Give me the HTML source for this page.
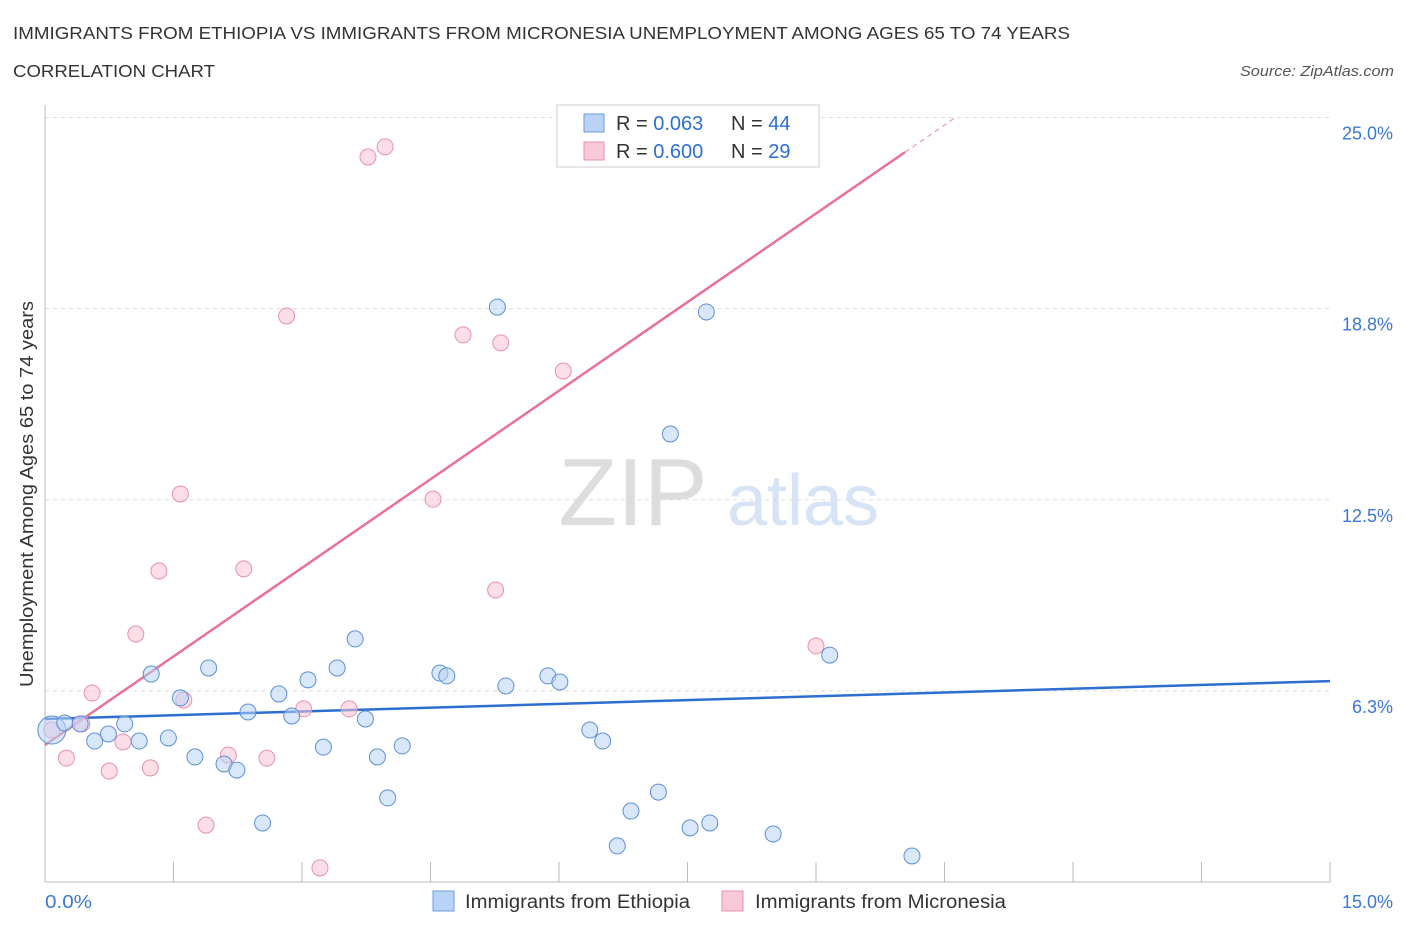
<!DOCTYPE html>
<html><head><meta charset="utf-8">
<style>
body{margin:0;background:#fff;font-family:"Liberation Sans",sans-serif;}
svg text{font-family:"Liberation Sans",sans-serif;}
</style></head>
<body>
<svg id="chart" width="1406" height="930" viewBox="0 0 1406 930" xmlns="http://www.w3.org/2000/svg">
<text x="13" y="39" font-size="17.5" fill="#333" textLength="1057" lengthAdjust="spacingAndGlyphs">IMMIGRANTS FROM ETHIOPIA VS IMMIGRANTS FROM MICRONESIA UNEMPLOYMENT AMONG AGES 65 TO 74 YEARS</text>
<text x="13" y="77" font-size="17.5" fill="#333" textLength="202" lengthAdjust="spacingAndGlyphs">CORRELATION CHART</text>
<text x="1394" y="76" font-size="15" fill="#555" font-style="italic" text-anchor="end" textLength="154" lengthAdjust="spacingAndGlyphs">Source: ZipAtlas.com</text>
<g>
<text x="633" y="525" font-size="96" fill="#ddd" font-family="Liberation Serif,serif" text-anchor="middle">ZIP</text>
<text x="803" y="525" font-size="72" fill="#d6e4f5" text-anchor="middle">atlas</text>
</g>
<g id="grid"></g>
<g id="axes"></g>
<g id="lines"></g>
<g id="points"></g>
<text transform="translate(33,494) rotate(-90)" font-size="18" fill="#333" text-anchor="middle" textLength="386" lengthAdjust="spacingAndGlyphs">Unemployment Among Ages 65 to 74 years</text>
<text x="45" y="908" font-size="18" fill="#3a78d4" textLength="47" lengthAdjust="spacingAndGlyphs">0.0%</text>
<text x="1393" y="908" font-size="18" fill="#3a78d4" text-anchor="end">15.0%</text>
<g>
<rect x="557" y="105" width="262" height="62" fill="#fff" stroke="#ccc"/>
<rect x="584" y="114" width="20" height="18" fill="#b8d3f5" stroke="#6b9ede"/>
<rect x="584" y="142" width="20" height="18" fill="#f9c9d7" stroke="#e890aa"/>
<text x="616" y="130" font-size="20" fill="#333">R = <tspan fill="#2c6fd1">0.063</tspan></text>
<text x="731" y="130" font-size="20" fill="#333">N = <tspan fill="#2c6fd1">44</tspan></text>
<text x="616" y="158" font-size="20" fill="#333">R = <tspan fill="#2c6fd1">0.600</tspan></text>
<text x="731" y="158" font-size="20" fill="#333">N = <tspan fill="#2c6fd1">29</tspan></text>
</g>
<g>
<rect x="433" y="891" width="21" height="20" fill="#b8d3f5" stroke="#6b9ede"/>
<text x="465" y="908" font-size="19" fill="#333" textLength="225" lengthAdjust="spacingAndGlyphs">Immigrants from Ethiopia</text>
<rect x="722" y="891" width="21" height="20" fill="#f9c9d7" stroke="#e890aa"/>
<text x="755" y="908" font-size="19" fill="#333" textLength="251" lengthAdjust="spacingAndGlyphs">Immigrants from Micronesia</text>
</g>
</svg>
<script>
const yTicks=[6.25,12.5,18.75,25];
const yTickLabels=["6.3%","12.5%","18.8%","25.0%"];
const xTicks=[0,1.5,3,4.5,6,7.5,9,10.5,12,13.5,15];
const ethX=[0.08,0.23,0.41,0.58,0.74,0.93,1.10,1.24,1.44,1.58,1.75,1.91,2.09,2.24,2.37,2.54,2.73,2.88,3.07,3.25,3.41,3.62,3.74,3.88,4.00,4.17,4.61,4.69,5.28,5.38,5.87,6.01,6.36,6.51,6.68,6.84,7.16,7.30,7.53,7.72,7.76,8.50,9.16,10.12];
const ethY=[4.97,5.20,5.17,4.61,4.84,5.17,4.61,6.80,4.71,6.02,4.09,7.00,3.86,3.66,5.56,1.93,6.15,5.43,6.61,4.41,7.00,7.95,5.33,4.09,2.75,4.45,6.83,6.74,18.80,6.41,6.74,6.54,4.97,4.61,1.18,2.32,2.94,14.65,1.77,18.64,1.93,1.57,7.42,0.85];
const micX=[0.08,0.25,0.43,0.55,0.75,0.91,1.06,1.23,1.33,1.58,1.62,1.88,2.14,2.32,2.59,2.82,3.02,3.21,3.55,3.77,3.97,4.53,4.88,5.26,5.32,6.05,6.98,7.14,9.00];
const micY=[4.97,4.05,5.17,6.18,3.63,4.58,8.11,3.73,10.17,12.69,5.95,1.86,4.15,10.24,4.05,18.51,5.66,0.46,5.66,23.71,24.04,12.52,17.89,9.55,17.63,16.71,25.05,25.05,7.72];
const ethTrend=[5.33,6.57];
const micTrend=[4.48,1.931];
const NS="http://www.w3.org/2000/svg";
const xs=v=>45+v/15*1285;
const ys=v=>882-v*30.58;
function mk(parent,tag,attrs){const e=document.createElementNS(NS,tag);for(const k in attrs)e.setAttribute(k,attrs[k]);document.getElementById(parent).appendChild(e);return e;}
yTicks.forEach((t,i)=>{
 const l=mk('grid','line',{x1:45,x2:1330,y1:ys(t),y2:ys(t),stroke:'#ddd','stroke-dasharray':'4,4'});
 
 
 const tx=mk('grid','text',{x:1393,y:ys(t)+22,'font-size':18,fill:'#3a78d4','text-anchor':'end'});
 tx.textContent=yTickLabels[i];
 
 
});
const ax=mk('axes','line',{x1:45,x2:1330,y1:882,y2:882,stroke:'#bbb'});


const ay=mk('axes','line',{x1:45,x2:45,y1:105,y2:882,stroke:'#bbb'});


xTicks.forEach(t=>{
 const l=mk('axes','line',{x1:xs(t),x2:xs(t),y1:862,y2:882,stroke:'#bbb'});
 
 
});
function pts(X,Y,fill,stroke,name){
 X.forEach((x,i)=>{
  const c=mk('points','circle',{cx:xs(x),cy:ys(Y[i]),r:i===0?(name==='ethiopia-point'?14:8):8,fill:fill,'fill-opacity':0.55,stroke:stroke,'stroke-width':1});
  
  
 });
}
pts(micX,micY,'#f9c3d3','#e890aa','micronesia-point');
pts(ethX,ethY,'#b8d3f5','#5b8fd8','ethiopia-point');
const bl=mk('lines','line',{x1:xs(0),y1:ys(ethTrend[0]),x2:xs(15),y2:ys(ethTrend[1]),stroke:'#2c6fd1','stroke-width':2.5});


const xe=10.04, xd=(25.0-micTrend[0])/micTrend[1];
const pl=mk('lines','line',{x1:xs(0),y1:ys(micTrend[0]),x2:xs(xe),y2:ys(micTrend[0]+micTrend[1]*xe),stroke:'#e8709a','stroke-width':2.5});


const pd=mk('lines','line',{x1:xs(xe),y1:ys(micTrend[0]+micTrend[1]*xe),x2:xs(xd),y2:ys(micTrend[0]+micTrend[1]*xd),stroke:'#f0a8c0','stroke-width':1.5,'stroke-dasharray':'5,4'});


</script>
</body></html>
